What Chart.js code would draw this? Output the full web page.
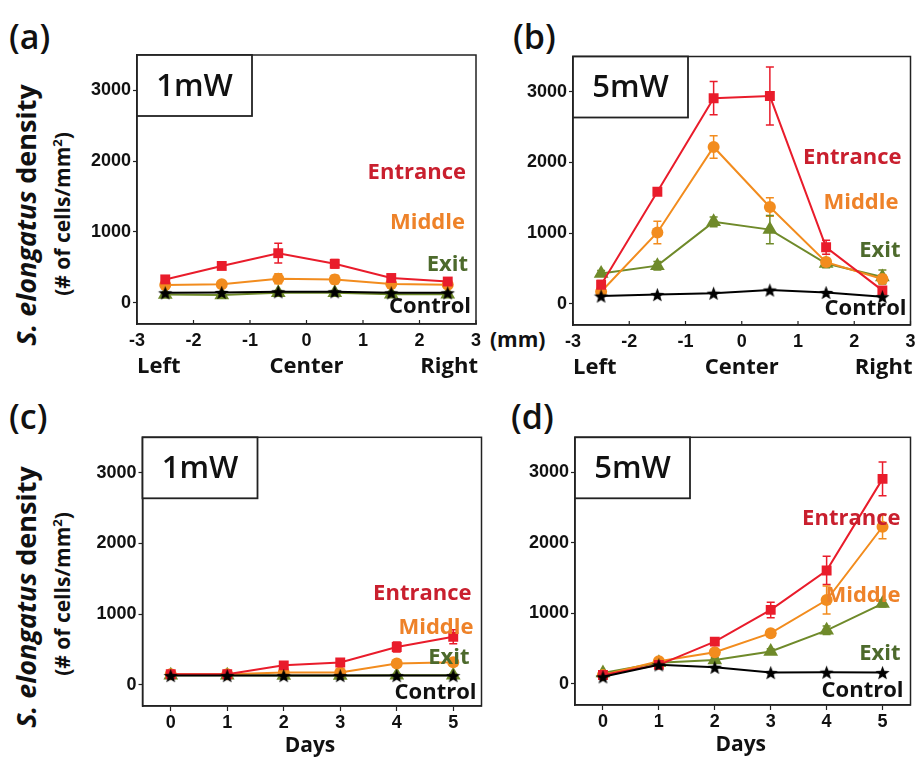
<!DOCTYPE html>
<html>
<head>
<meta charset="utf-8">
<script src="https://cdn.jsdelivr.net/npm/chart.js@4/dist/chart.umd.min.js"></script>
<style>
  html, body { margin: 0; padding: 0; background: #fff; overflow: hidden; }
  body { width: 919px; height: 759px; position: relative; font-family: "Open Sans", sans-serif; }
  canvas { position: absolute; }
  .tag { position: absolute; font: 600 34px "Open Sans", sans-serif; line-height: 1; color: #111; }
  .ytitle { position: absolute; width: 320px; text-align: center; transform: translate(-50%, -50%) rotate(-90deg);
            white-space: nowrap; font-weight: 700; color: #111; line-height: 1; }
  .mm { position: absolute; font: 700 21px "Open Sans", sans-serif; line-height: 1; color: #111; }
</style>
</head>
<body>
<div class="tag" style="left:9px;top:19px">(a)</div>
<div class="tag" style="left:513px;top:19px">(b)</div>
<div class="tag" style="left:9px;top:399px">(c)</div>
<div class="tag" style="left:511px;top:399px">(d)</div>

<div class="ytitle" style="left:25px;top:215px;font-size:27px"><i>S. elongatus</i> density</div>
<div class="ytitle" style="left:62px;top:214px;font-size:21px">(# of cells/mm<sup style="font-size:13px">2</sup>)</div>
<div class="ytitle" style="left:25px;top:597px;font-size:27px"><i>S. elongatus</i> density</div>
<div class="ytitle" style="left:62px;top:594px;font-size:21px">(# of cells/mm<sup style="font-size:13px">2</sup>)</div>
<div class="mm" style="left:490px;top:329px">(mm)</div>

<canvas id="ca" width="420" height="345" style="left:70px;top:40px"></canvas>
<canvas id="cb" width="404" height="345" style="left:515px;top:40px"></canvas>
<canvas id="cc" width="420" height="339" style="left:70px;top:420px"></canvas>
<canvas id="cd" width="404" height="339" style="left:515px;top:420px"></canvas>

<script>
// ---- data ----
const seriesNames = ["Entrance", "Middle", "Exit", "Control"];
const positions = [-2.5, -1.5, -0.5, 0.5, 1.5, 2.5];
const posTicks = [-3, -2, -1, 0, 1, 2, 3];
const posWords = ["Left", "Center", "Right"];
const days = [0, 1, 2, 3, 4, 5];
const yTicks = [0, 1000, 2000, 3000];

// (a) position, 1 mW
const aEntrance = [330, 520, 700, 550, 350, 300];
const aEntranceErr = [40, 40, 140, 60, 40, 30];
const aMiddle = [250, 260, 340, 330, 265, 255];
const aMiddleErr = [30, 30, 70, 60, 30, 30];
const aExit = [115, 110, 140, 140, 120, 120];
const aExitErr = [30, 30, 30, 30, 30, 30];
const aControl = [140, 145, 155, 155, 140, 140];

// (b) position, 5 mW
const bEntrance = [270, 1585, 2910, 2940, 800, 190];
const bEntranceErr = [60, 50, 235, 410, 100, 40];
const bMiddle = [170, 1010, 2220, 1370, 590, 350];
const bMiddleErr = [50, 160, 160, 130, 50, 60];
const bExit = [430, 540, 1160, 1050, 570, 380];
const bExitErr = [40, 60, 70, 200, 60, 100];
const bControl = [110, 130, 150, 195, 160, 100];

// (c) days, 1 mW
const cEntrance = [150, 150, 275, 315, 535, 680];
const cEntranceErr = [20, 20, 30, 40, 70, 100];
const cMiddle = [150, 150, 175, 175, 300, 320];
const cMiddleErr = [20, 20, 20, 20, 40, 50];
const cExit = [135, 135, 130, 130, 135, 135];
const cExitErr = [20, 20, 20, 20, 20, 20];
const cControl = [130, 130, 130, 130, 130, 130];

// (d) days, 5 mW
const dEntrance = [125, 270, 600, 1050, 1610, 2910];
const dEntranceErr = [30, 30, 30, 110, 200, 240];
const dMiddle = [125, 320, 450, 720, 1190, 2230];
const dMiddleErr = [30, 30, 40, 40, 200, 170];
const dExit = [155, 300, 340, 460, 760, 1140];
const dExitErr = [30, 30, 30, 40, 60, 50];
const dControl = [100, 270, 235, 160, 165, 160];

// ---- styling ----
const markColors = ["#e91c2b", "#f28c1e", "#6f8a2a", "#000000"];
const textColors = ["#c91f2e", "#ee8229", "#4d6a2c", "#111111"];
const FONT = '"Open Sans", sans-serif';
const TICKFONT = '"Liberation Sans", Arial, sans-serif';

function makeStar(r, color) {
  const c = document.createElement("canvas");
  c.width = c.height = Math.ceil(2 * r + 2);
  const g = c.getContext("2d");
  const cx = c.width / 2, cy = c.height / 2 + r * 0.1;
  g.beginPath();
  for (let i = 0; i < 10; i++) {
    const rad = i % 2 === 0 ? r : r * 0.42;
    const a = -Math.PI / 2 + i * Math.PI / 5;
    g.lineTo(cx + rad * Math.cos(a), cy + rad * Math.sin(a));
  }
  g.closePath();
  g.fillStyle = color;
  g.fill();
  return c;
}
const starImg = makeStar(7.5, "#000");

const panels = [
  { id: "ca", xs: positions, xTicks: posTicks, xmin: -3, xmax: 3, kind: "pos", power: "1mW",
    series: [aEntrance, aMiddle, aExit, aControl], errs: [aEntranceErr, aMiddleErr, aExitErr, null],
    geo: { yW: 67, xH: 61, padT: 15, padR: 14 },
    labels: [[10, 118], [11, 168], [8, 210], [5, 252]] },
  { id: "cb", xs: positions, xTicks: posTicks, xmin: -3, xmax: 3, kind: "pos", power: "5mW",
    series: [bEntrance, bMiddle, bExit, bControl], errs: [bEntranceErr, bMiddleErr, bExitErr, null],
    geo: { yW: 58, xH: 60, padT: 16.5, padR: 7 },
    labels: [[9, 101], [12, 146], [10, 194], [4, 252]] },
  { id: "cc", xs: days, xTicks: days, xmin: -0.5, xmax: 5.5, kind: "days", power: "1mW",
    series: [cEntrance, cMiddle, cExit, cControl], errs: [cEntranceErr, cMiddleErr, cExitErr, null],
    geo: { yW: 72.5, xH: 53, padT: 17.3, padR: 8 },
    labels: [[10, 156], [8, 190], [12, 220], [5, 255]] },
  { id: "cd", xs: days, xTicks: days, xmin: -0.5, xmax: 5.5, kind: "days", power: "5mW",
    series: [dEntrance, dMiddle, dExit, dControl], errs: [dEntranceErr, dMiddleErr, dExitErr, null],
    geo: { yW: 60, xH: 54, padT: 17.3, padR: 6.3 },
    labels: [[10, 81], [10, 158], [10, 216], [7, 253]] }
];

const decor = {
  id: "decor",
  beforeDatasetsDraw(chart) {
    const p = chart.$panel, ctx = chart.ctx;
    const xs = chart.scales.x, ys = chart.scales.y;
    ctx.save();
    p.errs.forEach((err, si) => {
      if (!err) return;
      ctx.strokeStyle = markColors[si];
      ctx.lineWidth = 1.5;
      p.series[si].forEach((v, j) => {
        if (!err[j]) return;
        const x = xs.getPixelForValue(p.xs[j]);
        const y1 = ys.getPixelForValue(v + err[j]);
        const y2 = ys.getPixelForValue(v - err[j]);
        ctx.beginPath();
        ctx.moveTo(x, y1); ctx.lineTo(x, y2);
        ctx.moveTo(x - 4, y1); ctx.lineTo(x + 4, y1);
        ctx.moveTo(x - 4, y2); ctx.lineTo(x + 4, y2);
        ctx.stroke();
      });
    });
    ctx.restore();
  },
  afterDraw(chart) {
    const p = chart.$panel, ctx = chart.ctx, a = chart.chartArea;
    const xs = chart.scales.x;
    ctx.save();
    // frame
    ctx.strokeStyle = "#222";
    ctx.lineWidth = 1.5;
    ctx.strokeRect(a.left, a.top, a.right - a.left, a.bottom - a.top);
    // inward x ticks for position panels
    if (p.kind === "pos") {
      ctx.lineWidth = 1.2;
      p.xTicks.forEach(t => {
        const x = xs.getPixelForValue(t);
        ctx.beginPath(); ctx.moveTo(x, a.bottom); ctx.lineTo(x, a.bottom - 4); ctx.stroke();
      });
    }
    // power box
    ctx.fillStyle = "#fff";
    ctx.fillRect(a.left, a.top, 115, 61);
    ctx.lineWidth = 1.8;
    ctx.strokeRect(a.left, a.top, 115, 61);
    ctx.fillStyle = "#111";
    ctx.font = "600 31px " + FONT;
    ctx.textAlign = "center";
    ctx.textBaseline = "middle";
    ctx.fillText(p.power, a.left + 57.5, a.top + 32);
    // series labels
    ctx.font = "700 22px " + FONT;
    ctx.textAlign = "right";
    p.labels.forEach((lp, i) => {
      ctx.fillStyle = textColors[i];
      ctx.fillText(seriesNames[i], a.right - lp[0], a.top + lp[1]);
    });
    // x captions
    ctx.fillStyle = "#111";
    if (p.kind === "pos") {
      ctx.font = "700 22px " + FONT;
      const y = a.bottom + 43;
      ctx.textAlign = "left";
      ctx.fillText(posWords[0], xs.getPixelForValue(p.xmin), y);
      ctx.textAlign = "center";
      ctx.fillText(posWords[1], xs.getPixelForValue(0), y);
      ctx.textAlign = "right";
      ctx.fillText(posWords[2], xs.getPixelForValue(p.xmax) + 2, y);
    } else {
      ctx.font = "700 21px " + FONT;
      ctx.textAlign = "center";
      ctx.fillText("Days", (a.left + a.right) / 2 - 2, a.bottom + 40);
    }
    ctx.restore();
  }
};

panels.forEach(p => {
  const canvas = document.getElementById(p.id);
  const pointStyles = ["rect", "circle", "triangle", starImg];
  const radii = [7, 6, 8.5, 7];
  const datasets = p.series.map((vals, i) => ({
    label: seriesNames[i],
    data: vals.map((v, j) => ({ x: p.xs[j], y: v })),
    borderColor: markColors[i],
    backgroundColor: markColors[i],
    borderWidth: 2,
    pointStyle: pointStyles[i],
    pointRadius: radii[i],
    pointBorderWidth: 0,
    tension: 0,
    order: i === 3 ? 0 : i + 1
  }));
  new Chart(canvas, {
    type: "line",
    data: { datasets },
    options: {
      responsive: false,
      animation: false,
      devicePixelRatio: 1,
      layout: { padding: { top: p.geo.padT, right: p.geo.padR, left: 0, bottom: 0 } },
      plugins: { legend: { display: false }, tooltip: { enabled: false } },
      scales: {
        x: {
          type: "linear",
          min: p.xmin, max: p.xmax,
          afterBuildTicks: s => { s.ticks = p.xTicks.map(v => ({ value: v })); },
          afterFit: s => { s.height = p.geo.xH; },
          border: { display: true, color: "#222", width: 1.5 },
          grid: { drawOnChartArea: false, drawTicks: true, tickLength: 5,
                  tickColor: p.kind === "pos" ? "rgba(0,0,0,0)" : "#222", tickWidth: 1.2 },
          ticks: { color: "#111", padding: 1, maxRotation: 0, autoSkip: false,
                   callback: v => String(v),
                   font: { family: TICKFONT, size: 18, weight: "bold" } }
        },
        y: {
          type: "linear",
          min: -300, max: 3500,
          afterBuildTicks: s => { s.ticks = yTicks.map(v => ({ value: v })); },
          afterFit: s => { s.width = p.geo.yW; },
          border: { display: true, color: "#222", width: 1.5 },
          grid: { drawOnChartArea: false, drawTicks: true, tickLength: 4, color: "#222", tickWidth: 1.2 },
          ticks: { color: "#111", padding: 2, callback: v => String(v),
                   font: { family: TICKFONT, size: 18, weight: "bold" } }
        }
      }
    },
    plugins: [decor, {
      id: "panelRef",
      beforeInit(c) { c.$panel = p; }
    }]
  });
});
</script>
</body>
</html>
